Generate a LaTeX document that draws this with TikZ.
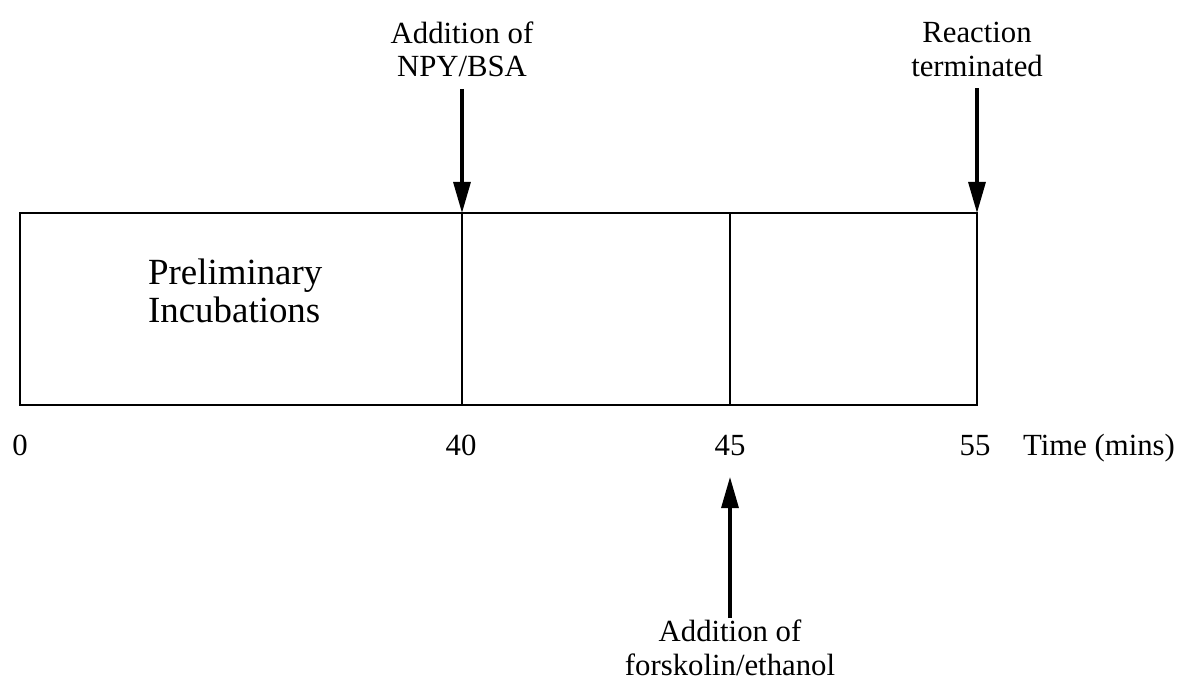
\documentclass[tikz,border=0pt]{standalone}
\usepackage{fontspec}
\setmainfont{Liberation Serif}
\usetikzlibrary{arrows.meta}

\tikzset{
  lbl/.style={align=center,inner sep=1pt,font=\fontsize{17.5}{19}\selectfont},
  pfeil/.style={line width=1.8pt,-{Triangle[length=6.2mm,width=3.4mm]}},
  kasten/.style={line width=1.6pt}
}

\begin{document}
\begin{tikzpicture}
					\useasboundingbox (0,0) rectangle (23.66,13.7);
					% Zeitbalken
					\draw[kasten] (0.4,5.6) rectangle (19.54,9.44);
					\draw[kasten] (9.24,5.6) -- (9.24,9.44);
					\draw[kasten] (14.6,5.6) -- (14.6,9.44);
					\node[lbl,align=left,anchor=west,font=\fontsize{21}{22}\selectfont] (prelim) at (2.92,7.88) {Preliminary\\Incubations};
					% Zeitachse
					\foreach \x/\t in {0.4/0,9.22/40,14.6/45,19.5/55}
					\node[lbl,anchor=base] (z\t) at (\x,4.6) {\t};
					\node[lbl,anchor=base west] (zeit) at (20.42,4.6) {Time (mins)};
					% Zugaben
					\node[lbl] (npy) at (9.24,12.71) {Addition of\\NPY/BSA};
					\node[lbl] (stop) at (19.54,12.71) {Reaction\\terminated};
					\node[lbl] (forsk) at (14.6,0.74) {Addition of\\forskolin/ethanol};
					\coordinate (a40) at (9.24,9.44);
					\coordinate (a55) at (19.54,9.44);
					\coordinate (a45) at (14.6,4.16);
					\draw[pfeil,shorten <=5.5pt] (npy) -- (a40);
					\draw[pfeil,shorten <=5.5pt] (stop) -- (a55);
					\draw[pfeil] (forsk) -- (a45);
				\end{tikzpicture}
\end{document}
